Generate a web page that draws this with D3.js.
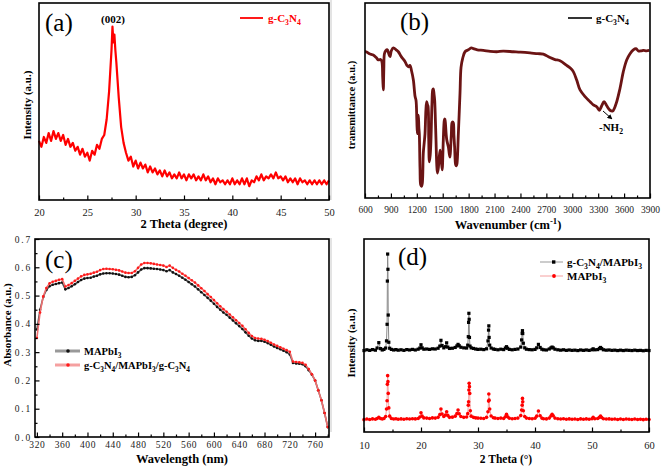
<!DOCTYPE html>
<html><head><meta charset="utf-8">
<script src="https://cdn.jsdelivr.net/npm/d3@7"></script>
<style>
body{margin:0;background:#fff;}
svg{display:block;}
text{font-family:"Liberation Serif","Times New Roman",serif;}
</style></head><body>
<svg id="chart" width="661" height="466"></svg>
<script>
// ---------- Panel (a): XRD of g-C3N4 ----------
const aTicks = [20,25,30,35,40,45,50];
const aMinor = [22.5,27.5,32.5,37.5,42.5,47.5];
const aTheta = [20,20.25,20.5,20.75,21,21.25,21.5,21.75,22,22.25,22.5,22.75,23,23.25,23.5,23.75,24,24.25,24.5,24.75,25,25.25,25.5,25.75,26,26.25,26.5,26.75,27,27.25,27.5,27.6,27.7,27.8,27.9,28,28.25,28.5,28.75,29,29.25,29.5,29.75,30,30.25,30.5,30.75,31,31.25,31.5,31.75,32,32.25,32.5,32.75,33,33.25,33.5,33.75,34,34.25,34.5,34.75,35,35.25,35.5,35.75,36,36.25,36.5,36.75,37,37.25,37.5,37.75,38,38.25,38.5,38.75,39,39.25,39.5,39.75,40,40.25,40.5,40.75,41,41.25,41.5,41.75,42,42.25,42.5,42.75,43,43.25,43.5,43.75,44,44.25,44.5,44.75,45,45.25,45.5,45.75,46,46.25,46.5,46.75,47,47.25,47.5,47.75,48,48.25,48.5,48.75,49,49.25,49.5,49.75,50];
const aInt = [30,27,32,29,34,30,35,31,34,30,33,28,31,27,29,25,27,23,26,22,24,20,25,23,28,26,31,33,41,55,76,88,80,84,76,70,52,37,29,24,20,22,17,20,16,19,16,18,14,17,14,16,13,15,12,15,12,14,11,13,11,14,11,13,10,13,11,13,10,12,10,13,10,12,9,11,8,11,9,10,8,10,8,11,8,10,8,11,8,11,7,10,9,12,10,13,10,12,11,13,11,14,11,12,10,12,9,11,9,11,8,11,9,10,8,10,8,10,8,10,8,10,8,10];

// ---------- Panel (b): FTIR of g-C3N4 ----------
const bTicks = [600,900,1200,1500,1800,2100,2400,2700,3000,3300,3600,3900];
const bMinor = [750,1050,1350,1650,1950,2250,2550,2850,3150,3450,3750];
const bSpectrum = [[600,75],[612,75],[650,74],[696,73.3],[730,72],[754,70.8],[780,71],[795,70],[805,62],[812,55.4],[818,66],[825,74],[840,75.5],[859,76],[875,74],[890,72.5],[905,75.5],[928,77],[960,76],[986,75],[1020,72.5],[1063,70],[1085,68],[1102,67.3],[1120,68],[1140,65],[1160,60.5],[1180,52],[1191,50],[1200,40],[1206,33],[1212,38],[1218,42.5],[1224,36],[1229,33],[1237,15],[1245,6.7],[1255,6],[1264,7.7],[1275,23],[1285,28],[1295,33],[1305,45],[1314,49.4],[1322,48],[1330,47],[1338,30],[1345,18.6],[1355,22],[1364,30],[1375,48],[1384,55.4],[1391,56],[1400,53],[1407,50],[1415,40],[1422,30],[1430,18],[1438,12.8],[1448,15],[1457,19.5],[1469,24.6],[1477,21],[1484,18.6],[1495,14.4],[1500,20],[1507,30],[1519,40],[1525,40.5],[1530,39],[1546,30],[1565,26.3],[1575,23],[1584,21],[1592,26],[1600,33],[1607,38.5],[1615,39],[1623,38.5],[1630,32],[1638,26],[1650,17],[1658,16.5],[1665,17.6],[1681,33],[1700,53.7],[1712,67],[1731,71.6],[1758,75],[1797,76],[1830,77],[1855,76.6],[1900,76],[1970,75.7],[2050,75.2],[2125,75],[2200,75.3],[2318,75],[2400,74.8],[2511,74.4],[2600,74],[2665,73.8],[2742,72],[2800,71],[2858,70.4],[2935,68],[2980,66.5],[3012,64.8],[3051,60.5],[3090,55.4],[3148,52],[3206,49.4],[3244,47.7],[3283,46.8],[3313,45],[3341,47.3],[3368,49.4],[3399,47.3],[3437,45],[3468,44.6],[3507,48.3],[3553,56.3],[3591,64.8],[3630,70.8],[3669,74],[3707,76],[3738,76.6],[3765,75.4],[3800,75.5],[3823,75.7],[3860,75.5],[3892,75.7]];

// ---------- Panel (c): UV-vis absorbance ----------
const cTicks = [320,360,400,440,480,520,560,600,640,680,720,760];
const cMinor = [340,380,420,460,500,540,580,620,660,700,740,780];
const cYTicks = [0,0.1,0.2,0.3,0.4,0.5,0.6,0.7];
const cYMinor = [0.05,0.15,0.25,0.35,0.45,0.55,0.65];
const cWave = [320,325,330,335,340,345,350,355,360,365,370,375,380,385,390,395,400,405,410,415,420,425,430,435,440,445,450,455,460,465,470,475,480,485,490,495,500,505,510,515,520,525,530,535,540,545,550,555,560,565,570,575,580,585,590,595,600,605,610,615,620,625,630,635,640,645,650,655,660,665,670,675,680,685,690,695,700,705,710,715,720,725,730,735,740,745,750,755,760,765,770,775,780];
const cMAPbI3 = [0.38,0.45,0.495,0.52,0.533,0.538,0.541,0.544,0.546,0.522,0.527,0.533,0.540,0.548,0.555,0.560,0.562,0.563,0.567,0.570,0.575,0.578,0.579,0.579,0.578,0.576,0.574,0.570,0.566,0.565,0.566,0.572,0.582,0.592,0.597,0.597,0.596,0.595,0.594,0.592,0.590,0.586,0.590,0.582,0.576,0.570,0.563,0.556,0.548,0.540,0.532,0.522,0.512,0.502,0.492,0.482,0.471,0.460,0.450,0.440,0.432,0.422,0.412,0.402,0.392,0.382,0.370,0.358,0.348,0.342,0.340,0.340,0.337,0.332,0.326,0.320,0.315,0.310,0.305,0.300,0.292,0.262,0.260,0.259,0.257,0.250,0.236,0.220,0.200,0.165,0.130,0.085,0.035];
const cSandwich = [0.35,0.44,0.497,0.527,0.543,0.549,0.552,0.556,0.558,0.532,0.537,0.544,0.552,0.560,0.568,0.573,0.575,0.577,0.581,0.584,0.590,0.594,0.595,0.594,0.593,0.591,0.589,0.585,0.581,0.580,0.580,0.586,0.598,0.610,0.615,0.615,0.614,0.612,0.610,0.608,0.606,0.601,0.606,0.598,0.591,0.585,0.577,0.570,0.562,0.554,0.546,0.536,0.526,0.516,0.505,0.495,0.484,0.473,0.462,0.452,0.443,0.433,0.423,0.413,0.403,0.393,0.381,0.368,0.357,0.350,0.348,0.347,0.344,0.339,0.333,0.327,0.322,0.317,0.312,0.307,0.301,0.267,0.265,0.264,0.262,0.255,0.240,0.222,0.200,0.165,0.130,0.085,0.035];

// ---------- Panel (d): XRD patterns ----------
const dTicks = [10,20,30,40,50,60];
const dMinor = [15,25,35,45,55];
const dComposite = [[10,42.2],[10.5,42.6],[11,42.3],[11.5,42.7],[12,42.4],[12.3,43.5],[12.6,46.3],[12.9,43.2],[13.2,42.5],[13.5,42.8],[13.8,43.5],[13.95,47.2],[14.05,55.8],[14.1,78.2],[14.15,92.2],[14.2,84.3],[14.25,60.6],[14.35,46.5],[14.5,43.4],[14.8,42.8],[15.2,42.5],[15.6,42.7],[16,42.4],[16.5,42.6],[17,42.3],[17.5,42.7],[18,42.5],[18.5,42.8],[19,42.5],[19.5,42.9],[19.8,43.5],[20,45.2],[20.2,43.6],[20.5,42.9],[21,43],[21.5,42.8],[22,43.1],[22.5,43],[23,43.4],[23.3,44.5],[23.5,47.5],[23.7,44.8],[24,43.6],[24.3,44.2],[24.5,46.2],[24.7,44],[25,43.3],[25.5,43.4],[26,43.8],[26.3,44.6],[26.5,45.4],[26.7,44.7],[27,43.9],[27.5,43.6],[28,43.5],[28.2,45],[28.3,49.4],[28.35,56.8],[28.4,61.5],[28.45,58.4],[28.5,49],[28.6,44.5],[28.8,43.6],[29.2,43.3],[29.6,43],[30,42.8],[30.5,42.9],[31,42.7],[31.5,43.1],[31.75,47.2],[31.85,52.8],[31.9,55],[31.95,49],[32.05,45],[32.3,43.5],[32.7,43],[33,42.8],[33.5,42.6],[34,42.9],[34.5,42.7],[34.8,43.5],[35,44.2],[35.2,43.4],[35.5,42.8],[36,42.6],[36.5,42.8],[37,43],[37.5,44],[37.65,47.7],[37.75,51.1],[37.8,52.5],[37.85,51],[37.95,46],[38.2,43.6],[38.5,42.9],[39,42.7],[39.5,42.6],[40,42.8],[40.3,43.6],[40.6,45.4],[40.9,43.8],[41.2,42.9],[41.5,42.6],[42,42.5],[42.5,43],[42.8,43.6],[43,44],[43.2,43.6],[43.5,42.9],[44,42.6],[44.5,42.4],[45,42.6],[45.5,42.3],[46,42.5],[46.5,42.3],[47,42.4],[47.5,42.2],[48,42.5],[48.5,42.3],[49,42.5],[49.5,42.3],[50,42.6],[50.2,43.1],[50.5,42.6],[51,42.7],[51.3,43.3],[51.5,43.8],[51.7,43.2],[52,42.6],[52.5,42.4],[53,42.5],[53.5,42.3],[54,42.4],[54.5,42.2],[55,42.4],[55.5,42.2],[56,42.4],[56.5,42.3],[57,42.2],[57.5,42.4],[58,42.2],[58.5,42.3],[59,42.1],[59.5,42.3],[60,42.2]];
const dPure = [[10,6.4],[10.5,6.7],[11,6.5],[11.5,6.8],[12,6.6],[12.3,7],[12.6,7.6],[12.9,7],[13.2,6.7],[13.5,7],[13.8,8],[13.95,11.9],[14.05,16.2],[14.1,24.7],[14.15,29.2],[14.2,26.1],[14.25,20],[14.35,12.5],[14.5,8.2],[14.8,7],[15.2,6.7],[15.6,6.9],[16,6.6],[16.5,6.8],[17,6.6],[17.5,6.9],[18,6.7],[18.5,6.9],[19,6.8],[19.5,7],[19.8,7.8],[20,10],[20.2,8.2],[20.5,7.3],[21,7.2],[21.5,7],[22,7.3],[22.5,7.2],[23,7.6],[23.3,9],[23.5,11.9],[23.7,9.3],[24,8],[24.3,8.8],[24.5,10.5],[24.7,8.6],[25,7.6],[25.5,7.7],[26,8.2],[26.3,9.5],[26.5,11.4],[26.7,9.4],[27,8],[27.5,7.6],[28,7.8],[28.2,9.5],[28.3,13.9],[28.35,15.7],[28.4,21.8],[28.45,25.2],[28.5,23.5],[28.55,20],[28.65,11],[28.8,8.2],[29.2,7.6],[29.6,7.3],[30,7.2],[30.5,7.1],[31,7],[31.5,7.6],[31.75,10.5],[31.85,16],[31.9,19.7],[31.95,16.5],[32.05,11.9],[32.3,8.3],[32.7,7.4],[33,7.2],[33.5,7],[34,7.2],[34.5,7],[34.8,7.9],[35,9.2],[35.2,7.9],[35.5,7.1],[36,6.9],[36.5,7],[37,7.2],[37.5,8.5],[37.65,11.4],[37.75,13.9],[37.8,17.4],[37.85,15.7],[37.95,11],[38.2,8],[38.5,7.2],[39,7],[39.5,6.9],[40,7.1],[40.3,8.2],[40.6,10.9],[40.9,8.4],[41.2,7.2],[41.5,6.9],[42,6.8],[42.5,7.2],[42.8,8.3],[43,9.2],[43.2,8.4],[43.5,7.2],[44,6.9],[44.5,6.7],[45,6.9],[45.5,6.6],[46,6.8],[46.5,6.6],[47,6.7],[47.5,6.5],[48,6.8],[48.5,6.6],[49,6.8],[49.5,6.6],[50,6.9],[50.2,7.6],[50.5,6.9],[51,7],[51.3,7.6],[51.5,8.3],[51.7,7.5],[52,6.9],[52.5,6.7],[53,6.8],[53.5,6.6],[54,6.7],[54.5,6.5],[55,6.7],[55.5,6.5],[56,6.7],[56.5,6.6],[57,6.5],[57.5,6.7],[58,6.5],[58.5,6.6],[59,6.4],[59.5,6.6],[60,6.5]];

const svg = d3.select('#chart');

svg.append('line').attr('x1',331).attr('x2',331).attr('y1',0).attr('y2',200).attr('stroke','#c8c8c8');
svg.append('line').attr('x1',331).attr('x2',331).attr('y1',238).attr('y2',432).attr('stroke','#c8c8c8');

function frame(x0,x1,y0,y1){
  svg.append('rect').attr('x',x0).attr('y',y0).attr('width',x1-x0).attr('height',y1-y0)
    .attr('fill','none').attr('stroke','#000').attr('stroke-width',1.6);
}
function xAxis(x, y0, major, minor, fs, pad, fmt){
  const m = svg.append('g').attr('transform',`translate(0,${y0})`)
    .call(d3.axisBottom(x).tickValues(minor).tickSize(-2.5).tickFormat(''));
  m.select('.domain').remove();
  m.selectAll('line').attr('stroke-width',1.2);
  const a = svg.append('g').attr('transform',`translate(0,${y0})`)
    .call(d3.axisBottom(x).tickValues(major).tickSize(-4.5).tickPadding(pad).tickFormat(fmt||(d=>d)));
  a.select('.domain').remove();
  a.selectAll('line').attr('stroke-width',1.2);
  a.selectAll('text').attr('font-size',fs).attr('fill','#222');
  return a;
}
function rich(t, segs, fs){
  let cur = 0;
  segs.forEach(([s,k])=>{
    const off = k==='sub' ? 0.28*fs : (k==='sup' ? -0.36*fs : 0);
    const ts = t.append('tspan').text(s).attr('dy', off-cur);
    if(k) ts.attr('font-size', fs*0.7);
    cur = off;
  });
}
const GC = [['g-C',''],['3','sub'],['N',''],['4','sub']];
const MA = [['MAPbI',''],['3','sub']];
const SL = [['/','']];

function yTitle(x, y, txt, fs){
  svg.append('text').attr('transform',`translate(${x},${y}) rotate(-90)`)
    .attr('text-anchor','middle').attr('dominant-baseline','central')
    .attr('font-weight','bold').attr('font-size',fs).text(txt);
}
function panelLabel(x,y,t){
  svg.append('text').attr('x',x).attr('y',y).attr('font-size',25).text(t);
}
function boldText(x,y,fs,fill,segs,anchor){
  const t = svg.append('text').attr('x',x).attr('y',y).attr('font-weight','bold').attr('font-size',fs).attr('fill',fill||'#000');
  if(anchor) t.attr('text-anchor',anchor);
  rich(t, segs, fs);
  return t;
}

// ===== (a) =====
{
  const x = d3.scaleLinear().domain([20,50]).range([39,329]);
  const y = d3.scaleLinear().domain([0,100]).range([200,3]);
  const pts = aTheta.map((t,i)=>[t,aInt[i]]);
  svg.append('path').datum(pts).attr('fill','none').attr('stroke','#ff0000').attr('stroke-width',2.2)
    .attr('stroke-linejoin','round')
    .attr('d', d3.line().x(d=>x(d[0])).y(d=>y(d[1])));
  frame(39,329,3,200);
  xAxis(x,200,aTicks,aMinor,10.5,8.5);
  svg.append('text').attr('x',184).attr('y',228).attr('text-anchor','middle').attr('font-weight','bold').attr('font-size',12.5).text('2 Theta (degree)');
  yTitle(27,105,'Intensity (a.u.)',11);
  panelLabel(45,31,'(a)');
  svg.append('text').attr('x',113).attr('y',23).attr('text-anchor','middle').attr('font-weight','bold').attr('font-size',11).text('(002)');
  svg.append('line').attr('x1',240).attr('x2',263).attr('y1',18).attr('y2',18).attr('stroke','#ff0000').attr('stroke-width',1.8);
  boldText(268,22,11,'#ff0000',GC);
}

// ===== (b) =====
{
  const x = d3.scaleLinear().domain([600,3900]).range([365,650]);
  const y = d3.scaleLinear().domain([0,100]).range([198,3]);
  svg.append('path').datum(bSpectrum).attr('fill','none').attr('stroke','#6b1414').attr('stroke-width',2.8)
    .attr('stroke-linejoin','round')
    .attr('d', d3.line().curve(d3.curveCatmullRom).x(d=>x(d[0])).y(d=>y(d[1])));
  frame(365,650,3,198);
  xAxis(x,198,bTicks,bMinor,9.5,8.5);
  boldText(508,228.5,12.5,'#000',[['Wavenumber (cm',''],['-1','sup'],[')','']],'middle');
  yTitle(351,105,'transmittance (a.u.)',10.5);
  panelLabel(400,30,'(b)');
  svg.append('line').attr('x1',568).attr('x2',592).attr('y1',18).attr('y2',18).attr('stroke','#000').attr('stroke-width',1.6);
  boldText(596,22,11,'#000',GC);
  svg.append('defs').append('marker').attr('id','ah').attr('viewBox','0 0 10 10').attr('refX',9).attr('refY',5)
    .attr('markerWidth',5).attr('markerHeight',5).attr('orient','auto')
    .append('path').attr('d','M0,0L10,5L0,10z').attr('fill','#000');
  svg.append('line').attr('x1',603).attr('y1',111).attr('x2',612).attr('y2',119).attr('stroke','#000').attr('stroke-width',1).attr('marker-end','url(#ah)');
  boldText(599,131,11,'#000',[['-NH',''],['2','sub']]);
}

// ===== (c) =====
{
  const x = d3.scaleLinear().domain([317,782]).range([35,329]);
  const y = d3.scaleLinear().domain([0,0.7]).range([437,239]);
  const line = d3.line().x(d=>x(d[0])).y(d=>y(d[1]));
  const blk = cWave.map((w,i)=>[w,cMAPbI3[i]]);
  const red = cWave.map((w,i)=>[w,cSandwich[i]]);
  svg.append('path').datum(blk).attr('fill','none').attr('stroke','#555').attr('stroke-width',1.6).attr('d',line);
  svg.append('g').selectAll('circle').data(blk).join('circle').attr('cx',d=>x(d[0])).attr('cy',d=>y(d[1])).attr('r',1.3).attr('fill','#111');
  svg.append('path').datum(red).attr('fill','none').attr('stroke','#f07070').attr('stroke-width',1.6).attr('d',line);
  svg.append('g').selectAll('circle').data(red).join('circle').attr('cx',d=>x(d[0])).attr('cy',d=>y(d[1])).attr('r',1.3).attr('fill','#ff1a1a');
  frame(35,329,239,437);
  xAxis(x,437,cTicks,cMinor,9.5,4.5).selectAll('text').attr('letter-spacing',0.6);
  const m = svg.append('g').attr('transform','translate(35,0)')
    .call(d3.axisLeft(y).tickValues(cYMinor).tickSize(-2.5).tickFormat(''));
  m.select('.domain').remove(); m.selectAll('line').attr('stroke-width',1.2);
  const ya = svg.append('g').attr('transform','translate(35,0)')
    .call(d3.axisLeft(y).tickValues(cYTicks).tickSize(-4.5).tickPadding(3).tickFormat(d3.format('.1f')));
  ya.select('.domain').remove(); ya.selectAll('line').attr('stroke-width',1.2);
  ya.selectAll('text').attr('font-size',9.5).attr('letter-spacing',1.8).attr('fill','#222');
  svg.append('text').attr('x',182).attr('y',463).attr('text-anchor','middle').attr('font-weight','bold').attr('font-size',12.5).text('Wavelength (nm)');
  yTitle(7,325,'Absorbance (a.u.)',11);
  panelLabel(45,268,'(c)');
  svg.append('line').attr('x1',55).attr('x2',80).attr('y1',351).attr('y2',351).attr('stroke','#999').attr('stroke-width',3);
  svg.append('circle').attr('cx',68).attr('cy',351).attr('r',1.8).attr('fill','#111');
  boldText(84,355,10.5,'#000',MA);
  svg.append('line').attr('x1',55).attr('x2',80).attr('y1',365).attr('y2',365).attr('stroke','#f5a0a0').attr('stroke-width',3);
  svg.append('circle').attr('cx',68).attr('cy',365).attr('r',1.8).attr('fill','#ff1a1a');
  boldText(84,369,10.5,'#000',[...GC,...SL,...MA,...SL,...GC]);
}

// ===== (d) =====
{
  const x = d3.scaleLinear().domain([10,60]).range([364,649]);
  const y = d3.scaleLinear().domain([0,100]).range([432,239]);
  const line = d3.line().x(d=>x(d[0])).y(d=>y(d[1]));
  svg.append('path').datum(dComposite).attr('fill','none').attr('stroke','#8a8a8a').attr('stroke-width',1).attr('d',line);
  svg.append('g').selectAll('rect').data(dComposite).join('rect')
    .attr('x',d=>x(d[0])-1.6).attr('y',d=>y(d[1])-1.6).attr('width',3.2).attr('height',3.2).attr('fill','#000');
  svg.append('path').datum(dPure).attr('fill','none').attr('stroke','#f4a0a0').attr('stroke-width',1).attr('d',line);
  svg.append('g').selectAll('circle').data(dPure).join('circle')
    .attr('cx',d=>x(d[0])).attr('cy',d=>y(d[1])).attr('r',1.8).attr('fill','#ff0000');
  frame(364,649,239,432);
  xAxis(x,432,dTicks,dMinor,10.5,9.5);
  svg.append('text').attr('x',506).attr('y',463).attr('text-anchor','middle').attr('font-weight','bold').attr('font-size',11.5).text('2 Theta (°)');
  yTitle(351,343,'Intensity (a.u.)',11);
  panelLabel(398,265,'(d)');
  svg.append('line').attr('x1',540).attr('x2',563).attr('y1',262).attr('y2',262).attr('stroke','#999').attr('stroke-width',1);
  svg.append('rect').attr('x',552).attr('y',260.3).attr('width',3.4).attr('height',3.4).attr('fill','#000');
  boldText(567,266,11,'#000',[...GC,...SL,...MA]);
  svg.append('line').attr('x1',540).attr('x2',563).attr('y1',276).attr('y2',276).attr('stroke','#f4a0a0').attr('stroke-width',1);
  svg.append('circle').attr('cx',554).attr('cy',276).attr('r',1.9).attr('fill','#ff0000');
  boldText(567,280,11,'#000',MA);
}
</script>
</body></html>
